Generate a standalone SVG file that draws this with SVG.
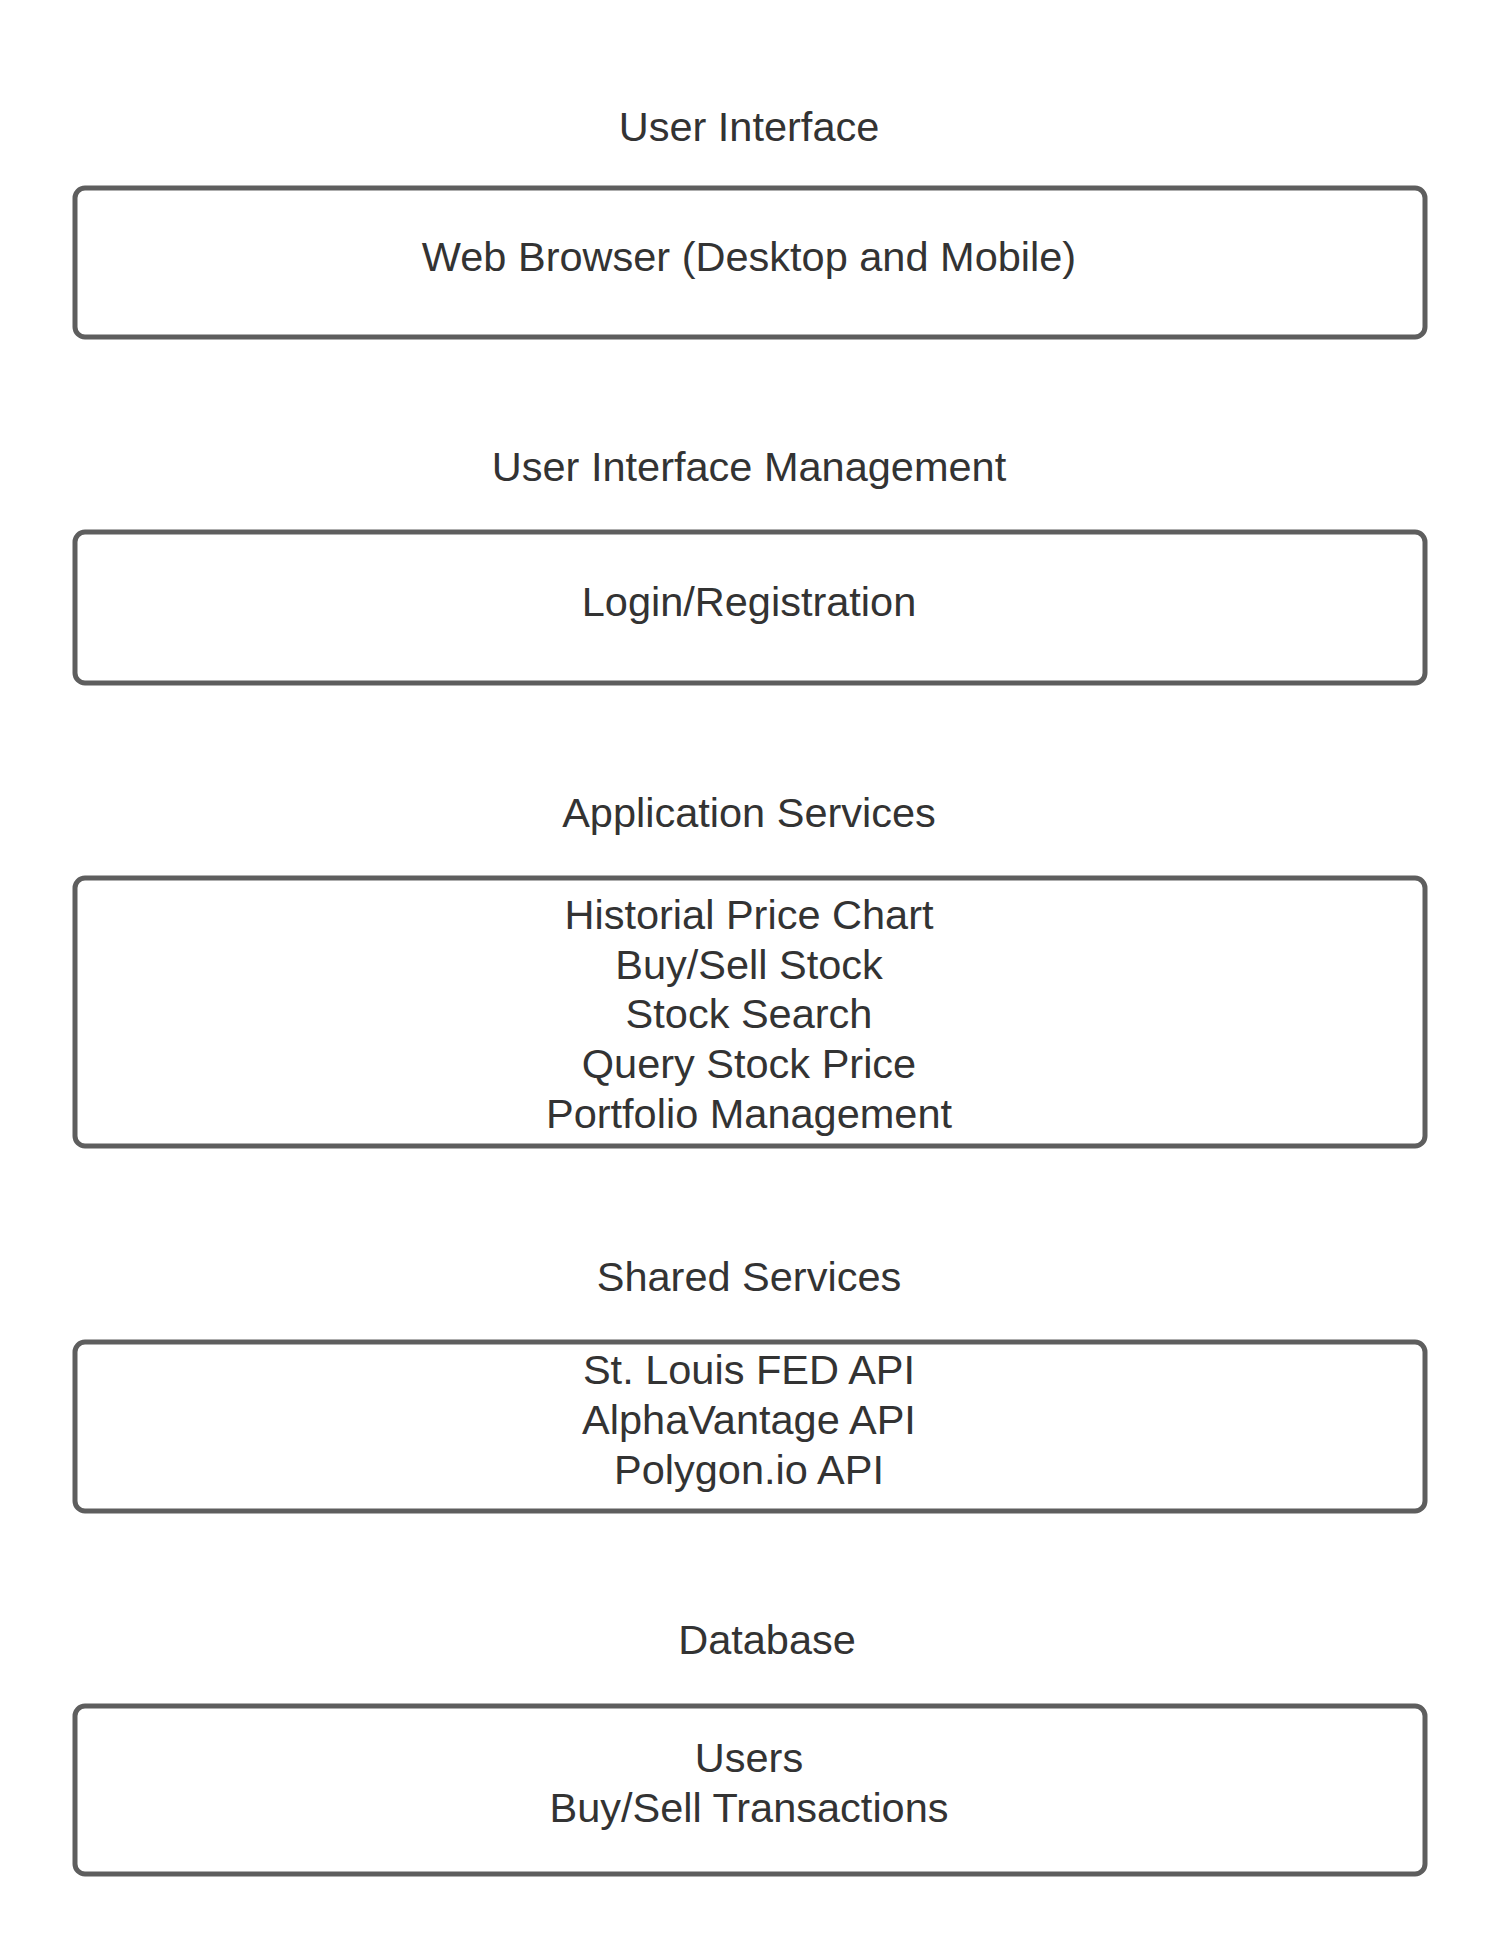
<svg xmlns="http://www.w3.org/2000/svg" width="1500" height="1950" viewBox="0 0 1500 1950">
<style>
.box{fill:#ffffff;stroke:#5e5e5e;stroke-width:5}
.t{font-family:"Liberation Sans",Arial,sans-serif;font-size:41.5px;fill:#333333;text-anchor:middle}
</style>
<rect width="1500" height="1950" fill="#ffffff"/>
<g id="label-ui"><text class="t" x="749" y="141">User Interface</text></g>
<g id="node-ui"><rect class="box" x="75" y="188" width="1350" height="149" rx="10"/><text class="t" x="749" y="271">Web Browser (Desktop and Mobile)</text></g>
<g id="label-uim"><text class="t" x="749" y="481">User Interface Management</text></g>
<g id="node-uim"><rect class="box" x="75" y="532" width="1350" height="151" rx="10"/><text class="t" x="749" y="616">Login/Registration</text></g>
<g id="label-app"><text class="t" x="749" y="827">Application Services</text></g>
<g id="node-app"><rect class="box" x="75" y="878" width="1350" height="268" rx="10"/>
<text class="t" x="749" y="929">Historial Price Chart</text>
<text class="t" x="749" y="979">Buy/Sell Stock</text>
<text class="t" x="749" y="1028">Stock Search</text>
<text class="t" x="749" y="1078">Query Stock Price</text>
<text class="t" x="749" y="1128">Portfolio Management</text></g>
<g id="label-shared"><text class="t" x="749" y="1291">Shared Services</text></g>
<g id="node-shared"><rect class="box" x="75" y="1342" width="1350" height="169" rx="10"/>
<text class="t" x="749" y="1384">St. Louis FED API</text>
<text class="t" x="749" y="1434">AlphaVantage API</text>
<text class="t" x="749" y="1484">Polygon.io API</text></g>
<g id="label-db"><text class="t" x="767" y="1654">Database</text></g>
<g id="node-db"><rect class="box" x="75" y="1706" width="1350" height="168" rx="10"/>
<text class="t" x="749" y="1772">Users</text>
<text class="t" x="749" y="1822">Buy/Sell Transactions</text></g>
<g id="connectors"></g>
</svg>
